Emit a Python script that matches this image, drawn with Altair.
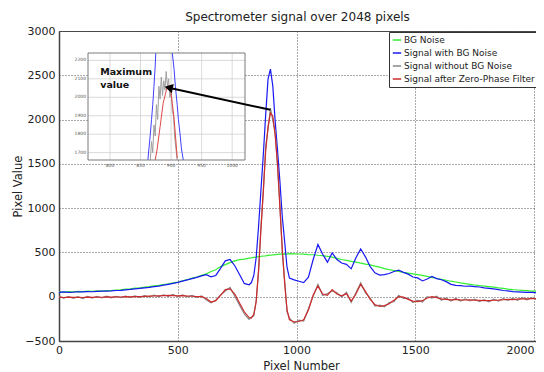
import altair as alt
import pandas as pd

# ---------------- data ----------------
pixel = [0, 20, 40, 60, 80, 100, 120, 140, 160, 180, 200, 220, 240, 260, 280, 300, 320, 340, 360, 380,
         400, 420, 440, 460, 480, 500, 520, 540, 560, 580, 600, 620, 640, 660, 680, 700, 720, 740, 760, 780, 800,
         810, 820, 830, 840, 850, 860, 870, 880, 890, 900, 910, 920, 930, 940, 950, 960, 970,
         990, 1010, 1030, 1050, 1070, 1090, 1110, 1130, 1150, 1170, 1190, 1210, 1230, 1250, 1270, 1290, 1310,
         1330, 1350, 1370, 1390, 1410, 1430, 1450, 1470, 1490, 1510, 1530, 1550, 1570, 1590, 1610, 1630, 1650,
         1670, 1690, 1710, 1730, 1750, 1770, 1790, 1810, 1830, 1850, 1870, 1890, 1910, 1930, 1950, 1970, 1990,
         2010, 2030, 2048]

bg_noise = [55, 50, 58, 54, 60, 57, 62, 60, 65, 63, 70, 68, 76, 78, 85, 88, 96, 100, 108, 113,
            122, 128, 138, 145, 156, 165, 180, 192, 210, 222, 242, 258, 285, 305, 340, 362, 385, 405, 418, 425, 435,
            438, 444, 447, 452, 455, 460, 462, 466, 470, 472, 476, 478, 480, 480, 484, 482, 486,
            484, 482, 480, 476, 474, 468, 464, 455, 446, 432, 420, 410, 400, 390, 380, 368, 360,
            345, 334, 318, 306, 296, 286, 275, 266, 258, 250, 240, 230, 218, 206, 196, 186, 175,
            166, 156, 148, 140, 132, 125, 120, 114, 108, 100, 94, 86, 80, 76, 72, 68, 64,
            62, 58, 56]

with_bg = [48, 55, 50, 52, 56, 54, 58, 56, 60, 62, 64, 66, 70, 72, 78, 82, 88, 94, 100, 106,
           114, 120, 130, 140, 150, 162, 176, 190, 205, 218, 235, 248, 225, 240, 320, 405, 420, 350, 250, 150, 135,
           160, 240, 440, 790, 1200, 1600, 2050, 2460, 2570, 2380, 1980, 1650, 1300, 900, 620, 330, 210,
           190, 175, 160, 220, 420, 590, 480, 390, 495, 420, 380, 365, 315, 440, 540, 450, 340,
           270, 245, 250, 262, 285, 300, 275, 255, 222, 212, 178, 200, 228, 205, 192, 170, 140,
           128, 125, 118, 120, 115, 110, 100, 95, 88, 80, 70, 66, 58, 55, 52, 50, 48,
           47, 45, 44]

without_bg = [5, -15, 2, -18, 0, -20, 4, -15, 5, -14, 6, -12, 5, -10, 8, -8, 10, -6, 12, -2,
              18, 2, 22, 5, 25, 0, 20, -2, 15, -8, 10, -35, -70, -40, 20, 65, 105, 5, -95, -195, -255,
              -230, -215, -40, 270, 790, 1170, 1700, 1890, 2130, 1990, 1860, 1460, 1040, 500, 180, -170, -240,
              -300, -265, -275, -135, 5, 140, 15, 35, 65, 45, -5, 50, -65, 45, 155, 45, -15,
              -105, -95, -115, -65, -55, 15, -20, -15, -65, -40, -60, 0, -15, 5, -40, -15, -50,
              -20, -50, -25, -48, -28, -55, -32, -58, -28, -50, -22, -42, -20, -40, -12, -36, -10,
              -32, -8, -25]

filtered = [-5, -10, -4, -8, -6, -9, -5, -7, -3, -6, -2, -4, -2, -3, 0, -2, 2, 0, 4, 6,
            8, 10, 12, 14, 12, 10, 12, 8, 5, 2, 0, -20, -60, -45, 15, 80, 88, 30, -70, -170, -235,
            -240, -200, -60, 300, 750, 1200, 1640, 1920, 2075, 2040, 1820, 1500, 1000, 540, 150, -150, -260,
            -285, -280, -260, -150, 20, 120, 30, 15, 80, 30, 10, 35, -50, 30, 140, 60, -30,
            -90, -110, -100, -80, -40, 0, -5, -30, -50, -55, -45, -15, 0, -10, -25, -30, -35,
            -30, -35, -37, -35, -40, -42, -44, -44, -40, -38, -34, -30, -32, -28, -25, -24, -22,
            -20, -20, -18]

series_names = ["BG Noise", "Signal with BG Noise", "Signal without BG Noise",
                "Signal after Zero-Phase Filter"]
series_colors = ["#33ee33", "#1818f2", "#888888", "#cc2b2b"]

x_ticks = [0, 500, 1000, 1500, 2000]
y_ticks = [-500, 0, 500, 1000, 1500, 2000, 2500, 3000]

# inset (zoom on the maximum)
inset_x_domain = [764, 1021]
inset_y_domain = [1660, 2240]
inset_x_ticks = [800, 850, 900, 950, 1000]
inset_y_ticks = [1700, 1800, 1900, 2000, 2100, 2200]

inset_blue_left_x = [862, 864, 866, 868, 870, 872, 874, 875]
inset_blue_left_y = [1660, 1730, 1800, 1880, 1960, 2060, 2170, 2240]
inset_blue_right_x = [902, 905, 907, 910, 912, 915, 917, 920]
inset_blue_right_y = [2240, 2150, 2060, 1960, 1880, 1790, 1720, 1660]
inset_gray_x = [866, 868, 870, 872, 874, 876, 878, 880, 882, 884, 886, 888, 890, 892, 894, 896,
                898, 900, 902, 904, 906, 908, 910]
inset_gray_y = [1660, 1760, 1700, 1850, 1790, 1960, 1880, 2060, 1990, 2110, 2010, 2090, 2040, 2140,
                2060, 2100, 2000, 2030, 1930, 1900, 1780, 1720, 1660]
inset_red_x = [874, 877, 882, 887, 893, 896, 899, 902, 905, 907, 909, 910]
inset_red_y = [1660, 1714, 1840, 1967, 2049, 2066, 2050, 1967, 1880, 1800, 1714, 1670]

note_text = ["Maximum", "value"]
note_x = [784, 784]
note_y = [2121, 2050]

arrow_x = [890, 462]
arrow_y = [2110, 2360]

# ---------------- build chart ----------------
FONT = "DejaVu Sans"
TXT = "#222222"
W, H = 477, 310
X_DOMAIN = [0, 2008]
Y_DOMAIN = [-500, 3000]

rows = []
for name, vals in zip(series_names, [bg_noise, with_bg, without_bg, filtered]):
    for k, (p, v) in enumerate(zip(pixel, vals)):
        rows.append({"series": name, "k": k, "pixel": p, "value": v})
main_df = pd.DataFrame(rows)

xs = alt.Scale(domain=X_DOMAIN, nice=False, zero=False)
ys = alt.Scale(domain=Y_DOMAIN, nice=False, zero=False)
color_scale = alt.Scale(domain=series_names, range=series_colors)

x_axis = alt.Axis(values=x_ticks, format="d", title="Pixel Number", grid=True, gridDash=[1, 2],
                  gridColor="#555555", gridWidth=1, ticks=False, labelFont=FONT, labelFontSize=11,
                  labelColor=TXT, titleFont=FONT, titleFontSize=11.5, titleFontWeight="normal",
                  titleColor=TXT, labelPadding=3, titlePadding=5, domainColor="#444444",
                  domainWidth=1.5, labelFlush=False, titleX=242,
                  labelAlign=alt.expr("datum.value == 2000 ? 'right' : 'center'"))
y_axis = alt.Axis(values=y_ticks, format="d", title="Pixel Value", grid=True, gridDash=[1, 2],
                  gridColor="#555555", gridWidth=1, ticks=False, labelFont=FONT, labelFontSize=11,
                  labelColor=TXT, titleFont=FONT, titleFontSize=11.5, titleFontWeight="normal",
                  titleColor=TXT, labelPadding=4, titlePadding=1, domainColor="#444444",
                  domainWidth=1.5, labelFlush=False)

legend = alt.Legend(title=None, orient="none", legendX=330, legendY=1, symbolType="stroke",
                    symbolStrokeWidth=1.5, symbolSize=70, labelFont=FONT, labelFontSize=9,
                    labelColor=TXT, fillColor="white", strokeColor="#333333", padding=3,
                    rowPadding=3, labelOffset=2, cornerRadius=0, labelLimit=300)


def main_line(name):
    return alt.Chart(main_df).transform_filter(alt.datum.series == name).mark_line(
        clip=True, strokeWidth=1.2).encode(
        x=alt.X("pixel:Q", scale=xs, axis=x_axis),
        y=alt.Y("value:Q", scale=ys, axis=y_axis),
        color=alt.Color("series:N", scale=color_scale, legend=legend),
        order="k:Q",
    )


main = alt.layer(*[main_line(n) for n in series_names])

# inset
ixs = alt.Scale(domain=inset_x_domain, range=[29, 186], nice=False, zero=False)
iys = alt.Scale(domain=inset_y_domain, range=[129, 22], nice=False, zero=False)

box_df = pd.DataFrame({"x0": [inset_x_domain[0]], "x1": [inset_x_domain[1]],
                       "y0": [inset_y_domain[0]], "y1": [inset_y_domain[1]]})
vgrid_df = pd.DataFrame({"t": inset_x_ticks, "y0": inset_y_domain[0], "y1": inset_y_domain[1]})
hgrid_df = pd.DataFrame({"t": inset_y_ticks, "x0": inset_x_domain[0], "x1": inset_x_domain[1]})

inset_rows = []
for seg, (xx, yy, col) in enumerate([
        (inset_blue_left_x, inset_blue_left_y, "#4040ff"),
        (inset_blue_right_x, inset_blue_right_y, "#4040ff"),
        (inset_gray_x, inset_gray_y, "#a0a0a0"),
        (inset_red_x, inset_red_y, "#e04848")]):
    for k, (a, b) in enumerate(zip(xx, yy)):
        inset_rows.append({"seg": seg, "k": k, "x": a, "y": b, "hex": col})
inset_df = pd.DataFrame(inset_rows)
note_df = pd.DataFrame({"x": note_x, "y": note_y, "text": note_text})

bg = alt.Chart(box_df).mark_rect(fill="white").encode(
    x=alt.X("x0:Q", scale=ixs, axis=None), x2="x1:Q",
    y=alt.Y("y0:Q", scale=iys, axis=None), y2="y1:Q")
vgrid = alt.Chart(vgrid_df).mark_rule(color="#d0d0d0", strokeWidth=0.8).encode(
    x=alt.X("t:Q", scale=ixs, axis=None),
    y=alt.Y("y0:Q", scale=iys, axis=None), y2="y1:Q")
hgrid = alt.Chart(hgrid_df).mark_rule(color="#d0d0d0", strokeWidth=0.8).encode(
    y=alt.Y("t:Q", scale=iys, axis=None),
    x=alt.X("x0:Q", scale=ixs, axis=None), x2="x1:Q")
xlab = alt.Chart(vgrid_df).mark_text(font=FONT, fontSize=4.5, color="#555555", baseline="top", dy=3).encode(
    x=alt.X("t:Q", scale=ixs, axis=None),
    y=alt.Y("y0:Q", scale=iys, axis=None), text="t:Q")
ylab = alt.Chart(hgrid_df).mark_text(font=FONT, fontSize=4.5, color="#555555", align="right", dx=-2).encode(
    y=alt.Y("t:Q", scale=iys, axis=None),
    x=alt.X("x0:Q", scale=ixs, axis=None), text="t:Q")
ilines = alt.Chart(inset_df).mark_line(strokeWidth=1).encode(
    x=alt.X("x:Q", scale=ixs, axis=None),
    y=alt.Y("y:Q", scale=iys, axis=None),
    detail="seg:N", order="k:Q",
    color=alt.Color("hex:N", scale=None))
frame = alt.Chart(box_df).mark_rect(fillOpacity=0, stroke="#7a7a7a", strokeWidth=1).encode(
    x=alt.X("x0:Q", scale=ixs, axis=None), x2="x1:Q",
    y=alt.Y("y0:Q", scale=iys, axis=None), y2="y1:Q")
note = alt.Chart(note_df).mark_text(font=FONT, fontSize=9.5, fontWeight="bold", color="#111111",
                                    align="left", baseline="alphabetic").encode(
    x=alt.X("x:Q", scale=ixs, axis=None),
    y=alt.Y("y:Q", scale=iys, axis=None), text="text:N")

inset = alt.layer(bg, vgrid, hgrid, xlab, ylab, ilines, frame, note)

# arrow on main scales
arrow_df = pd.DataFrame({"pixel": arrow_x, "value": arrow_y, "k": [0, 1]})
arrow_line = alt.Chart(arrow_df).mark_line(color="black", strokeWidth=2).encode(
    x=alt.X("pixel:Q", scale=xs, axis=None),
    y=alt.Y("value:Q", scale=ys, axis=None), order="k:Q")
arrow_head = alt.Chart(arrow_df).transform_filter(alt.datum.k == 1).mark_point(
    shape="triangle-left", angle=12, size=90, filled=True, color="black", opacity=1).encode(
    x=alt.X("pixel:Q", scale=xs, axis=None),
    y=alt.Y("value:Q", scale=ys, axis=None))
arrow = alt.layer(arrow_line, arrow_head)

chart = alt.layer(main, inset, arrow).resolve_scale(
    x="independent", y="independent"
).properties(
    width=W, height=H,
    title=alt.TitleParams("Spectrometer signal over 2048 pixels", font=FONT, fontSize=12,
                          fontWeight="normal", color=TXT, anchor="middle", offset=1),
    autosize=alt.AutoSizeParams(type="none"),
    padding={"left": 51, "top": 23, "right": 0, "bottom": 31},
    background="white",
).configure_view(stroke="#444444", strokeWidth=1)

chart.save("out.html", embed_options={"renderer": "svg", "actions": False})
